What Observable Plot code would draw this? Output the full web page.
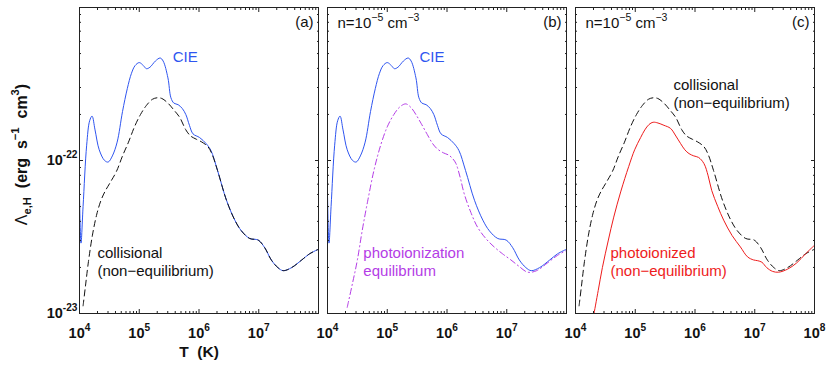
<!DOCTYPE html>
<html><head><meta charset="utf-8">
<script src="https://cdn.jsdelivr.net/npm/d3@7"></script>
<script src="https://cdn.jsdelivr.net/npm/@observablehq/plot@0.6"></script>
<style>body{margin:0;background:#fff}</style>
</head><body><div id="chart"></div>
<script>
// ---- data (log10 T [K], log10 Lambda [erg s^-1 cm^3]) ----
const cieLogT = [4.00,4.025,4.06,4.12,4.17,4.21,4.26,4.33,4.42,4.48,4.55,4.63,4.72,4.80,4.87,4.93,5.00,5.07,5.12,5.18,5.27,5.35,5.40,5.48,5.53,5.58,5.65,5.72,5.78,5.84,5.90,6.01,6.12,6.20,6.31,6.46,6.60,6.71,6.85,6.99,7.10,7.21,7.32,7.41,7.55,7.72,7.85,8.00];
const cieLogL = [-22.22,-22.54,-22.30,-21.90,-21.74,-21.71,-21.80,-21.93,-22.00,-22.01,-21.97,-21.88,-21.68,-21.53,-21.43,-21.38,-21.36,-21.38,-21.40,-21.39,-21.35,-21.33,-21.35,-21.46,-21.59,-21.625,-21.635,-21.66,-21.70,-21.77,-21.826,-21.85,-21.89,-21.935,-22.065,-22.26,-22.39,-22.46,-22.51,-22.52,-22.57,-22.65,-22.70,-22.72,-22.70,-22.65,-22.61,-22.58];

const collLogT = [4.06,4.10,4.15,4.22,4.29,4.36,4.43,4.52,4.62,4.72,4.82,4.92,5.02,5.12,5.22,5.30,5.38,5.48,5.58,5.68,5.78,5.86,5.95,6.05,6.15,6.22,6.31,6.46,6.60,6.71,6.85,6.99,7.10,7.21,7.32,7.41,7.55,7.72,7.85,8.00];
const collLogL = [-22.95,-22.82,-22.66,-22.48,-22.35,-22.26,-22.20,-22.14,-22.07,-21.97,-21.88,-21.78,-21.70,-21.64,-21.60,-21.59,-21.595,-21.625,-21.67,-21.72,-21.80,-21.84,-21.86,-21.88,-21.91,-21.96,-22.065,-22.26,-22.39,-22.46,-22.51,-22.52,-22.57,-22.65,-22.70,-22.72,-22.70,-22.65,-22.61,-22.58];

const pieLogT = [4.33,4.42,4.50,4.58,4.67,4.78,4.89,5.00,5.11,5.21,5.31,5.40,5.48,5.57,5.67,5.76,5.84,5.94,6.03,6.10,6.15,6.22,6.29,6.40,6.51,6.65,6.79,6.93,7.07,7.20,7.35,7.50,7.68,7.85,8.00];
const pieLogL = [-22.96,-22.80,-22.65,-22.46,-22.27,-22.06,-21.90,-21.78,-21.70,-21.65,-21.63,-21.655,-21.70,-21.76,-21.83,-21.89,-21.925,-21.95,-21.965,-21.99,-22.02,-22.11,-22.22,-22.34,-22.435,-22.51,-22.565,-22.61,-22.65,-22.69,-22.73,-22.72,-22.67,-22.62,-22.587];

const photLogT = [4.31,4.38,4.45,4.55,4.64,4.76,4.89,4.99,5.09,5.16,5.23,5.30,5.38,5.48,5.59,5.68,5.76,5.83,5.90,5.98,6.06,6.15,6.22,6.28,6.38,6.48,6.62,6.76,6.88,6.98,7.05,7.12,7.20,7.30,7.40,7.55,7.70,7.85,8.00];
const photLogL = [-23.0,-22.85,-22.70,-22.52,-22.37,-22.20,-22.04,-21.93,-21.85,-21.80,-21.765,-21.75,-21.755,-21.77,-21.79,-21.84,-21.89,-21.93,-21.955,-21.97,-21.98,-22.02,-22.10,-22.196,-22.30,-22.39,-22.49,-22.565,-22.63,-22.65,-22.655,-22.665,-22.70,-22.725,-22.73,-22.71,-22.67,-22.61,-22.554];

const panels = ["a", "b", "c"];
const majorT = [1e4, 1e5, 1e6, 1e7, 1e8];
const majorL = [1e-23, 1e-22, 1e-21];
const minorT = [4,5,6,7].flatMap(k => [2,3,4,5,6,7,8,9].map(m => m * 10 ** k));
const minorL = [-23,-22].flatMap(k => [2,3,4,5,6,7,8,9].map(m => m * 10 ** k));

// ---- styles / annotations ----
const BLUE = "#2f55f0", PURPLE = "#b43ce6", RED = "#ee1c1c", BLACK = "#111";

function series(logT, logL, inPanels) {
  return inPanels.flatMap(p => logT.map((t, i) => ({panel: p, T: 10 ** t, L: 10 ** logL[i]})));
}
const cie = series(cieLogT, cieLogL, ["a", "b"]);
const coll = series(collLogT, collLogL, ["a", "c"]);
const pie = series(pieLogT, pieLogL, ["b"]);
const phot = series(photLogT, photLogL, ["c"]);

const notes = [
  {panel: "a", T: 10 ** 5.56, L: 10 ** -21.32, text: "CIE", color: BLUE},
  {panel: "a", T: 10 ** 4.30, L: 10 ** -22.66, text: "collisional\n(non\u2212equilibrium)", color: BLACK},
  {panel: "b", T: 10 ** 5.54, L: 10 ** -21.32, text: "CIE", color: BLUE},
  {panel: "b", T: 10 ** 4.60, L: 10 ** -22.66, text: "photoionization\nequilibrium", color: PURPLE},
  {panel: "c", T: 10 ** 5.64, L: 10 ** -21.56, text: "collisional\n(non\u2212equilibrium)", color: BLACK},
  {panel: "c", T: 10 ** 4.585, L: 10 ** -22.66, text: "photoionized\n(non\u2212equilibrium)", color: RED}
];

const sup = d => `10^{${Math.round(Math.log10(d))}}`;
const tickOpts = {tickFormat: () => "", label: null, facetAnchor: null, stroke: "#222"};
const labOpts = {tickSize: 0, tickFormat: sup, label: null, fontWeight: "bold", fontSize: 14.5, fill: "#111"};

const chart = Plot.plot({
  width: 830, height: 371,
  marginLeft: 79, marginRight: 16, marginTop: 7, marginBottom: 58,
  style: {fontFamily: "'Liberation Sans', Arial, sans-serif", fontSize: "15px", background: "white", overflow: "visible"},
  fx: {domain: panels, paddingInner: 0.0383, paddingOuter: 0, axis: null},
  x: {type: "log", domain: [1e4, 1e8]},
  y: {type: "log", domain: [1e-23, 1e-21]},
  color: {type: "identity"},
  marks: [
    Plot.line(cie, {x: "T", y: "L", fx: "panel", stroke: BLUE, strokeWidth: 1, curve: "catmull-rom", clip: true}),
    Plot.line(coll, {x: "T", y: "L", fx: "panel", stroke: BLACK, strokeWidth: 1, strokeDasharray: "6,4", curve: "catmull-rom", clip: true}),
    Plot.line(pie, {x: "T", y: "L", fx: "panel", stroke: PURPLE, strokeWidth: 1, strokeDasharray: "6,3,1.2,3", curve: "catmull-rom", clip: true}),
    Plot.line(phot, {x: "T", y: "L", fx: "panel", stroke: RED, strokeWidth: 1, curve: "catmull-rom", clip: true}),
    Plot.frame({stroke: "#222", strokeWidth: 1}),
    // inward ticks, all four sides of every panel
    Plot.axisX(majorT, {...tickOpts, anchor: "bottom", tickSize: -4}),
    Plot.axisX(majorT, {...tickOpts, anchor: "top", tickSize: -4}),
    Plot.axisX(minorT, {...tickOpts, anchor: "bottom", tickSize: -2}),
    Plot.axisX(minorT, {...tickOpts, anchor: "top", tickSize: -2}),
    Plot.axisY(majorL, {...tickOpts, anchor: "left", tickSize: -4}),
    Plot.axisY(majorL, {...tickOpts, anchor: "right", tickSize: -4}),
    Plot.axisY(minorL, {...tickOpts, anchor: "left", tickSize: -2}),
    Plot.axisY(minorL, {...tickOpts, anchor: "right", tickSize: -2}),
    // tick labels
    Plot.axisX(majorT.slice(0, 4), {...labOpts, anchor: "bottom", tickPadding: 14, facetAnchor: null}),
    Plot.axisX(majorT.slice(4), {...labOpts, anchor: "bottom", tickPadding: 14, facetAnchor: "right"}),
    Plot.axisY(majorL.slice(0, 2), {...labOpts, anchor: "left", tickPadding: 2}),
    // axis titles
    Plot.text([{panel: "a"}], {fx: "panel", frameAnchor: "bottom", dy: 39, lineAnchor: "middle", text: () => "T\u00a0\u00a0(K)", fontWeight: "bold", fontSize: 15.5, fill: "#111"}),
    Plot.text([{panel: "a"}], {fx: "panel", frameAnchor: "left", dx: -58, dy: -6, rotate: -90, textAnchor: "middle", lineAnchor: "middle",
      text: () => "!{\u039b}_{e,H}\u00a0\u00a0(erg\u00a0\u00a0s^{\u22121}\u00a0\u00a0cm^{3})", fontWeight: "bold", fontSize: 16, fill: "#111"}),
    // panel tags
    Plot.text(panels, {fx: d => d, frameAnchor: "top-right", dx: -5, dy: 15, textAnchor: "end", lineAnchor: "middle", text: d => `(${d})`, fontSize: 15, fill: "#111"}),
    Plot.text(["b", "c"], {fx: d => d, frameAnchor: "top-left", dx: 10, dy: 16, textAnchor: "start", lineAnchor: "middle", text: () => "n=10^{\u22125} cm^{\u22123}", fontSize: 15, fill: "#111"}),
    // curve annotations
    Plot.text(notes, {x: "T", y: "L", fx: "panel", text: "text", fill: "color", textAnchor: "start", lineAnchor: "middle", lineHeight: 1.2, fontSize: 15})
  ]
});

// turn ^{..} / _{..} / !{..} markup into real tspans
function richify(root) {
  root.querySelectorAll("text, tspan").forEach(el => {
    if (el.children.length) return;
    const s = el.textContent;
    if (!/[\^_!]\{/.test(s)) return;
    el.textContent = "";
    const re = /([\^_!])\{([^}]*)\}/g;
    let last = 0, m;
    const ns = "http://www.w3.org/2000/svg";
    const add = (txt, kind) => {
      const t = document.createElementNS(ns, "tspan");
      t.textContent = txt;
      if (kind === "^") { t.setAttribute("baseline-shift", "0.7em"); t.setAttribute("font-size", "70%"); }
      if (kind === "_") { t.setAttribute("baseline-shift", "-0.4em"); t.setAttribute("font-size", "70%"); }
      if (kind === "!") { t.setAttribute("font-weight", "normal"); }
      el.appendChild(t);
    };
    while ((m = re.exec(s))) {
      if (m.index > last) add(s.slice(last, m.index));
      add(m[2], m[1]);
      last = re.lastIndex;
    }
    if (last < s.length) add(s.slice(last));
  });
}
richify(chart);
document.getElementById("chart").appendChild(chart);
</script>
</body></html>
